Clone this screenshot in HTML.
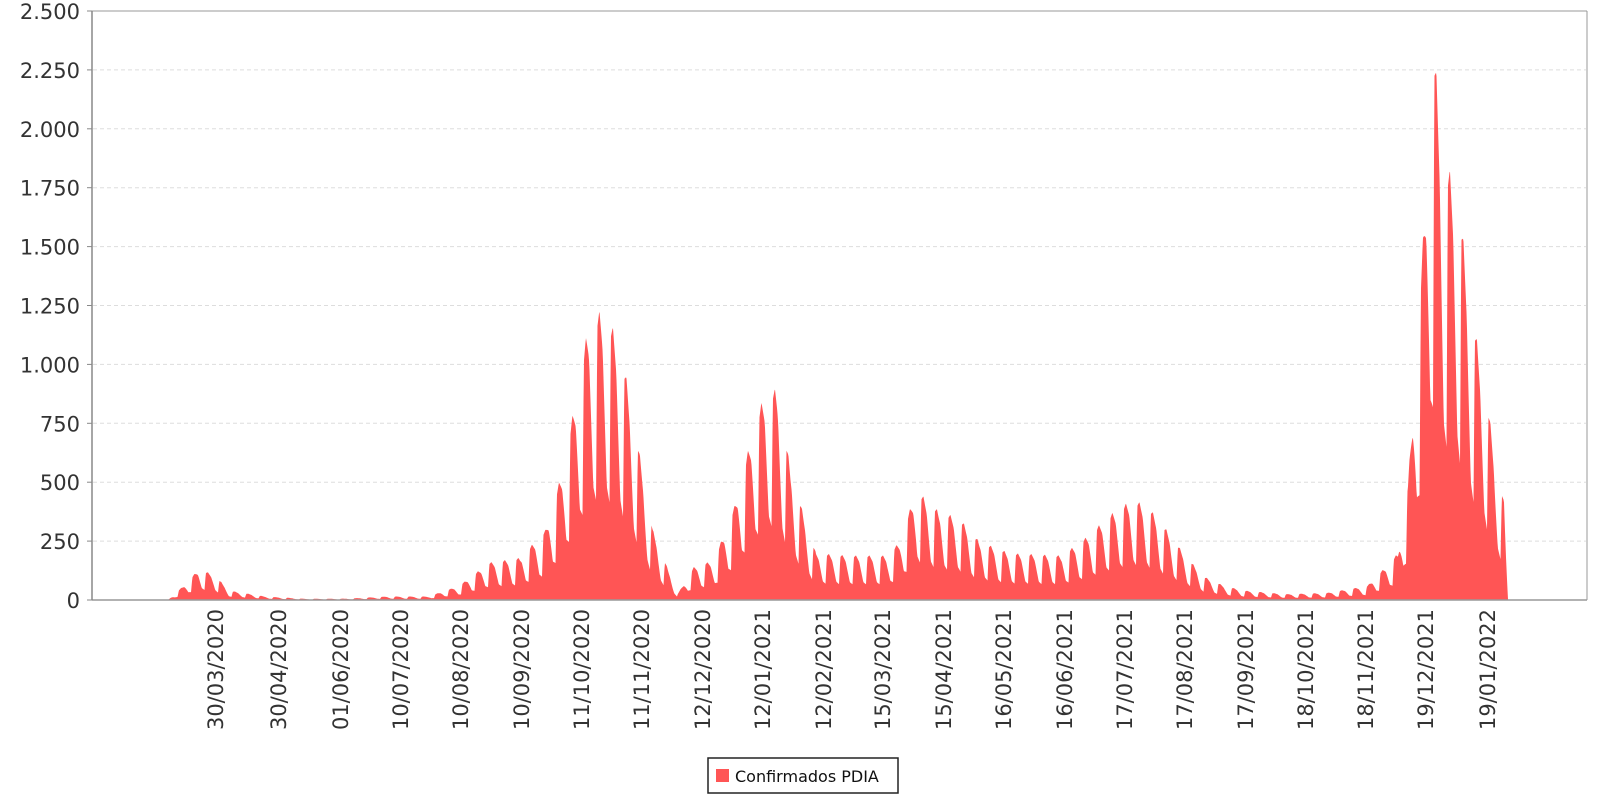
<!DOCTYPE html>
<html><head><meta charset="utf-8"><style>
body{margin:0;background:#fff;width:1600px;height:795px;overflow:hidden;font-family:"DejaVu Sans","Liberation Sans",sans-serif}
</style></head><body>
<svg id="s" width="1600" height="795" xmlns="http://www.w3.org/2000/svg">
<g id="grid"></g>
<path id="area" fill="#ff5555" stroke="none"/>
<line x1="92" y1="11" x2="1587" y2="11" stroke="#999"/>
<line x1="1587" y1="11" x2="1587" y2="600" stroke="#999"/>
<line x1="92" y1="600" x2="1587" y2="600" stroke="#999" stroke-width="1.5"/>
<line x1="92" y1="11" x2="92" y2="600" stroke="#888" stroke-width="1.5"/>
<g id="yl" font-size="21" fill="#333" text-anchor="end"></g>
<g id="xl" font-size="21" fill="#333" text-anchor="end"></g>
<rect x="708" y="758" width="190" height="35" fill="#fff" stroke="#222" stroke-width="1.5"/>
<rect x="716" y="769" width="13" height="13" fill="#ff5555"/>
<text x="735" y="782" font-size="16" fill="#111">Confirmados PDIA</text>
</svg>
<script>
var ns="http://www.w3.org/2000/svg";
function Y(v){return 600-v*589/2500;}
var g=document.getElementById('grid'),yl=document.getElementById('yl');
var labs=["0","250","500","750","1.000","1.250","1.500","1.750","2.000","2.250","2.500"];
for(var i=0;i<=10;i++){var y=Y(i*250);
 if(i>0&&i<10){var l=document.createElementNS(ns,'line');l.setAttribute('x1',93);l.setAttribute('x2',1586);l.setAttribute('y1',y);l.setAttribute('y2',y);l.setAttribute('stroke','#ddd');l.setAttribute('stroke-dasharray','4,3');g.appendChild(l);}
 var t=document.createElementNS(ns,'text');t.setAttribute('x',80);t.setAttribute('y',y+8);t.textContent=labs[i];yl.appendChild(t);
 var tk=document.createElementNS(ns,'line');tk.setAttribute('x1',87);tk.setAttribute('x2',92);tk.setAttribute('y1',y);tk.setAttribute('y2',y);tk.setAttribute('stroke','#888');g.appendChild(tk);}
var xs=[["30/03/2020",215],["30/04/2020",278],["01/06/2020",340],["10/07/2020",400],["10/08/2020",460],["10/09/2020",521],["11/10/2020",581],["11/11/2020",641],["12/12/2020",702],["12/01/2021",762],["12/02/2021",823],["15/03/2021",882],["15/04/2021",943],["16/05/2021",1003],["16/06/2021",1064],["17/07/2021",1124],["17/08/2021",1184],["17/09/2021",1245],["18/10/2021",1305],["18/11/2021",1365],["19/12/2021",1425],["19/01/2022",1487]];
var xl=document.getElementById('xl');
xs.forEach(function(a){var t=document.createElementNS(ns,'text');t.setAttribute('transform','translate('+(a[1]+8)+',609) rotate(-90)');t.textContent=a[0];xl.appendChild(t);});
var k0=[[165,0],[180,60],[195,130],[210,110],[225,40],[260,15],[300,5],[340,6],[380,15],[420,15],[450,60],[480,160],[510,180],[535,300],[552,560],[566,900],[577,1180],[590,1240],[605,1130],[615,930],[630,550],[640,300],[655,130],[665,30],[680,140],[700,170],[720,400],[738,720],[750,890],[762,900],[775,560],[790,330],[800,200],[830,190],[870,190],[882,250],[898,470],[920,380],[940,350],[960,250],[990,200],[1040,190],[1060,250],[1090,370],[1110,430],[1125,400],[1140,320],[1160,200],[1180,100],[1200,60],[1220,40],[1260,25],[1300,30],[1340,60],[1360,150],[1370,200],[1380,500],[1391,1250],[1405,2380],[1415,1880],[1428,1770],[1442,1240],[1455,930],[1465,620],[1474,420],[1476,200],[1478,0]];
var k=k0.map(function(p){return [168+(p[0]-165)*1.0206,p[1]];});
function env(x){for(var i=0;i<k.length-1;i++){if(x>=k[i][0]&&x<=k[i+1][0]){var f=(x-k[i][0])/(k[i+1][0]-k[i][0]);return k[i][1]+f*(k[i+1][1]-k[i][1]);}}return 0;}
var x0=k[0][0],x1=k[k.length-1][0];
var d="M"+x0+",600";
for(var x=x0;x<=x1;x+=0.5){var e=env(x);var ph=((x-x0+4)/13.5)%1;
 var p;
 if(ph<0.1)p=0.35+ph/0.1*0.6;
 else if(ph<0.25)p=0.95+(ph-0.1)*0.33;
 else if(ph<0.5)p=1-(ph-0.25)*0.6;
 else if(ph<0.8)p=0.85-(ph-0.5)/0.3*0.45;
 else p=0.4-(ph-0.8)/0.2*0.05;
 d+=" L"+x+","+Y(e*p).toFixed(1);}
d+=" L"+x1+",600 Z";document.getElementById('area').setAttribute('d',d);
</script>
</body></html>
